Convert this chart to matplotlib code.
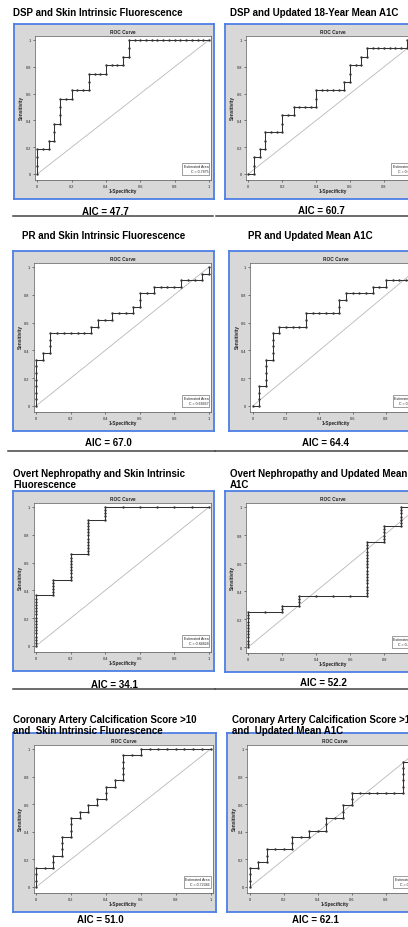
import matplotlib
matplotlib.use("Agg")
import matplotlib.pyplot as plt
from matplotlib.lines import Line2D

plt.rcParams['font.family'] = ['Liberation Sans', 'DejaVu Sans']

W, H = 408, 928

titles = [
    "DSP and Skin Intrinsic Fluorescence",
    "DSP and Updated 18-Year Mean A1C",
    "PR and Skin Intrinsic Fluorescence",
    "PR and Updated Mean A1C",
    "Overt Nephropathy and Skin Intrinsic\nFluorescence",
    "Overt Nephropathy and Updated Mean\nA1C",
    "Coronary Artery Calcification Score >10\nand  Skin Intrinsic Fluorescence",
    "Coronary Artery Calcification Score >10\nand  Updated Mean A1C",
]
aic_values = [47.7, 60.7, 67.0, 64.4, 34.1, 52.2, 51.0, 62.1]
area_labels = ["0.7875", "0.63333", "0.68667", "0.67619",
               "0.84828", "0.48636", "0.72386", "0.51136"]
n_neg = [30, 30, 25, 25, 10, 10, 20, 20]
n_pos = [16, 16, 21, 21, 44, 44, 22, 22]

# ROC points as (false positives, true positives) counts
dsp_sif = [(0, 0), (0, 1), (0, 2), (0, 3), (1, 3), (2, 3), (2, 4), (3, 4), (3, 5), (3, 6),
           (4, 6), (4, 7), (4, 8), (4, 9), (5, 9), (6, 9), (6, 10), (7, 10), (8, 10), (9, 10),
           (9, 11), (9, 12), (10, 12), (11, 12), (12, 12), (12, 13), (13, 13), (14, 13), (15, 13),
           (15, 14), (16, 14), (16, 15), (16, 16), (17, 16), (18, 16), (19, 16), (20, 16), (21, 16),
           (22, 16), (23, 16), (24, 16), (25, 16), (26, 16), (27, 16), (28, 16), (29, 16), (30, 16)]
dsp_a1c = [(0, 0), (1, 0), (1, 1), (1, 2), (2, 2), (2, 3), (3, 3), (3, 4), (3, 5), (4, 5),
           (5, 5), (6, 5), (6, 6), (6, 7), (7, 7), (8, 7), (8, 8), (9, 8), (10, 8), (11, 8),
           (12, 8), (12, 9), (12, 10), (13, 10), (14, 10), (15, 10), (16, 10), (17, 10), (17, 11),
           (18, 11), (18, 12), (18, 13), (19, 13), (20, 13), (20, 14), (21, 14), (21, 15), (22, 15),
           (23, 15), (24, 15), (25, 15), (26, 15), (27, 15), (28, 15), (28, 16), (29, 16), (30, 16)]
pr_sif = [(0, 0), (0, 1), (0, 2), (0, 3), (0, 4), (0, 5), (0, 6), (0, 7), (1, 7), (1, 8),
          (2, 8), (2, 9), (2, 10), (2, 11), (3, 11), (4, 11), (5, 11), (6, 11), (7, 11), (8, 11),
          (8, 12), (9, 12), (9, 13), (10, 13), (11, 13), (11, 14), (12, 14), (13, 14), (14, 14),
          (14, 15), (15, 15), (15, 16), (15, 17), (16, 17), (17, 17), (17, 18), (18, 18), (19, 18),
          (20, 18), (21, 18), (21, 19), (22, 19), (23, 19), (24, 19), (24, 20), (25, 20), (25, 21)]
pr_a1c = [(0, 0), (1, 0), (1, 1), (1, 2), (1, 3), (2, 3), (2, 4), (2, 5), (2, 6), (2, 7),
          (3, 7), (3, 8), (3, 9), (3, 10), (3, 11), (4, 11), (4, 12), (5, 12), (6, 12), (7, 12),
          (8, 12), (8, 13), (8, 14), (9, 14), (10, 14), (11, 14), (12, 14), (13, 14), (13, 15),
          (13, 16), (14, 16), (14, 17), (15, 17), (16, 17), (17, 17), (18, 17), (18, 18), (19, 18),
          (20, 18), (20, 19), (21, 19), (22, 19), (23, 19), (24, 19), (24, 20), (25, 20), (25, 21)]
on_sif = [(0, 0), (0, 1), (0, 2), (0, 3), (0, 4), (0, 5), (0, 6), (0, 7), (0, 8), (0, 9),
          (0, 10), (0, 11), (0, 12), (0, 13), (0, 14), (0, 15), (0, 16), (1, 16), (1, 17), (1, 18),
          (1, 19), (1, 20), (1, 21), (2, 21), (2, 22), (2, 23), (2, 24), (2, 25), (2, 26), (2, 27),
          (2, 28), (2, 29), (3, 29), (3, 30), (3, 31), (3, 32), (3, 33), (3, 34), (3, 35), (3, 36),
          (3, 37), (3, 38), (3, 39), (3, 40), (4, 40), (4, 41), (4, 42), (4, 43), (4, 44), (5, 44),
          (6, 44), (7, 44), (8, 44), (9, 44), (10, 44)]
on_a1c = [(0, 0), (0, 1), (0, 2), (0, 3), (0, 4), (0, 5), (0, 6), (0, 7), (0, 8), (0, 9),
          (0, 10), (0, 11), (1, 11), (2, 11), (2, 12), (2, 13), (3, 13), (3, 14), (3, 15), (3, 16),
          (4, 16), (5, 16), (6, 16), (7, 16), (7, 17), (7, 18), (7, 19), (7, 20), (7, 21), (7, 22),
          (7, 23), (7, 24), (7, 25), (7, 26), (7, 27), (7, 28), (7, 29), (7, 30), (7, 31), (7, 32),
          (7, 33), (8, 33), (8, 34), (8, 35), (8, 36), (8, 37), (8, 38), (9, 38), (9, 39), (9, 40),
          (9, 41), (9, 42), (9, 43), (9, 44), (10, 44)]
cac_sif = [(0, 0), (0, 1), (0, 2), (0, 3), (1, 3), (2, 3), (2, 4), (2, 5), (3, 5), (3, 6),
           (3, 7), (3, 8), (4, 8), (4, 9), (4, 10), (4, 11), (5, 11), (5, 12), (6, 12), (6, 13),
           (7, 13), (7, 14), (8, 14), (8, 15), (8, 16), (9, 16), (9, 17), (10, 17), (10, 18),
           (10, 19), (10, 20), (10, 21), (11, 21), (12, 21), (12, 22), (13, 22), (14, 22), (15, 22),
           (16, 22), (17, 22), (18, 22), (19, 22), (20, 22)]
cac_a1c = [(0, 0), (0, 1), (0, 2), (0, 3), (1, 3), (1, 4), (2, 4), (2, 5), (2, 6), (3, 6),
           (4, 6), (5, 6), (5, 7), (5, 8), (6, 8), (7, 8), (7, 9), (8, 9), (9, 9), (9, 10),
           (9, 11), (10, 11), (11, 11), (11, 12), (11, 13), (12, 13), (12, 14), (12, 15), (13, 15),
           (14, 15), (15, 15), (16, 15), (17, 15), (18, 15), (18, 16), (18, 17), (18, 18), (18, 19),
           (18, 20), (19, 20), (19, 21), (20, 21), (20, 22)]
curves = [dsp_sif, dsp_a1c, pr_sif, pr_a1c, on_sif, on_a1c, cac_sif, cac_a1c]

# pixel layout: x of 0, x of 1, y of 1, y of 0
geom = [(37.3, 209, 41, 175), (248.3, 418, 41, 175),
        (36, 209, 268, 407), (252.7, 419.4, 268, 407),
        (36, 209, 508, 647), (248.3, 418.3, 508, 648),
        (36, 210.7, 750, 888), (250, 420, 750, 888)]
title_pos = [(13, 13), (230, 13), (22, 236), (248, 236),
             (13, 474), (230, 474), (13, 720), (232, 720)]
aic_pos = [(105, 212), (321, 211), (108, 443), (326, 443),
           (114, 685), (323, 683), (100, 920), (315, 920)]

BOX_GREY = '#d8d8d8'
BLUE = '#4d7ee6'
DARK = '#333333'


def rect(left, top, right, bottom):
    return [left / W, 1 - bottom / H, (right - left) / W, (bottom - top) / H]


def fx(x):
    return x / W


def fy(y):
    return 1 - y / H


fig = plt.figure(figsize=(W / 100, H / 100), dpi=100)
fig.patch.set_facecolor('white')

for i in range(8):
    x0, x1, y1, y0 = geom[i]
    sx, sy = x1 - x0, y0 - y1

    box = fig.add_axes(rect(x0 - 23.5, y1 - 16, x1 + 5, y0 + 25))
    box.set_facecolor(BOX_GREY)
    box.set_xticks([])
    box.set_yticks([])
    for s in box.spines.values():
        s.set_color(BLUE)
        s.set_linewidth(1.3)

    ax = fig.add_axes(rect(x0 - 2.5, y1 - 4, x1 + 2, y0 + 6))
    ax.set_facecolor('white')
    ax.set_xlim(-2.5 / sx, 1 + 2 / sx)
    ax.set_ylim(-6 / sy, 1 + 4 / sy)
    ax.plot([0, 1], [0, 1], color='#b8b8b8', lw=0.6, zorder=1)
    fp, tp = zip(*curves[i])
    fpr = [v / n_neg[i] for v in fp]
    tpr = [v / n_pos[i] for v in tp]
    ax.plot(fpr, tpr, color=DARK, lw=0.75, marker='o', ms=1.7, mew=0, zorder=2)

    ticks = [0, 0.2, 0.4, 0.6, 0.8, 1]
    labels = ['0', '0.2', '0.4', '0.6', '0.8', '1']
    ax.set_xticks(ticks)
    ax.set_xticklabels(labels)
    ax.set_yticks(ticks)
    ax.set_yticklabels(labels)
    ax.tick_params(length=1.6, width=0.4, labelsize=2.8, pad=1.2,
                   colors='#222222')
    for s in ax.spines.values():
        s.set_color('#555555')
        s.set_linewidth(0.5)

    ax.text(0.995, 0.005, "Estimated Area\nC = " + area_labels[i],
            ha='right', va='bottom', fontsize=2.6, color='#222222',
            linespacing=1.3, zorder=3,
            bbox=dict(boxstyle='square,pad=0.35', facecolor='white',
                      edgecolor='#555555', linewidth=0.4))

    fig.text(fx((x0 + x1) / 2), fy(y1 - 8.5), "ROC Curve", ha='center',
             va='center', fontsize=3.4, fontweight='bold', color='#222222')
    fig.text(fx((x0 + x1) / 2), fy(y0 + 17), "1-Specificity", ha='center',
             va='center', fontsize=3.4, fontweight='bold', color='#222222')
    fig.text(fx(x0 - 15.6), fy((y0 + y1) / 2), "Sensitivity", ha='center',
             va='center', rotation=90, fontsize=3.4, fontweight='bold',
             color='#222222')

    tx, ty = title_pos[i]
    for k, line in enumerate(titles[i].split('\n')):
        fig.text(fx(tx), fy(ty + 11 * k), line, ha='left', va='center',
                 fontsize=7.0, fontweight='bold', color='black')

    ax_x, ax_y = aic_pos[i]
    fig.text(fx(ax_x), fy(ax_y), "AIC = %.1f" % aic_values[i], ha='center',
             va='center', fontsize=7, fontweight='bold', color='black')

# separator rules under the AIC labels
for y, a, b, c, d in [(217, 13, 213, 216, 408), (452, 8, 215, 215, 408),
                      (690, 13, 215, 215, 408)]:
    fig.add_artist(Line2D([fx(a), fx(b)], [fy(y), fy(y)], color='#444444', lw=1.1))
    fig.add_artist(Line2D([fx(c), fx(d)], [fy(y), fy(y)], color='#444444', lw=1.1))

fig.savefig('out.png', dpi=100)
plt.close(fig)
